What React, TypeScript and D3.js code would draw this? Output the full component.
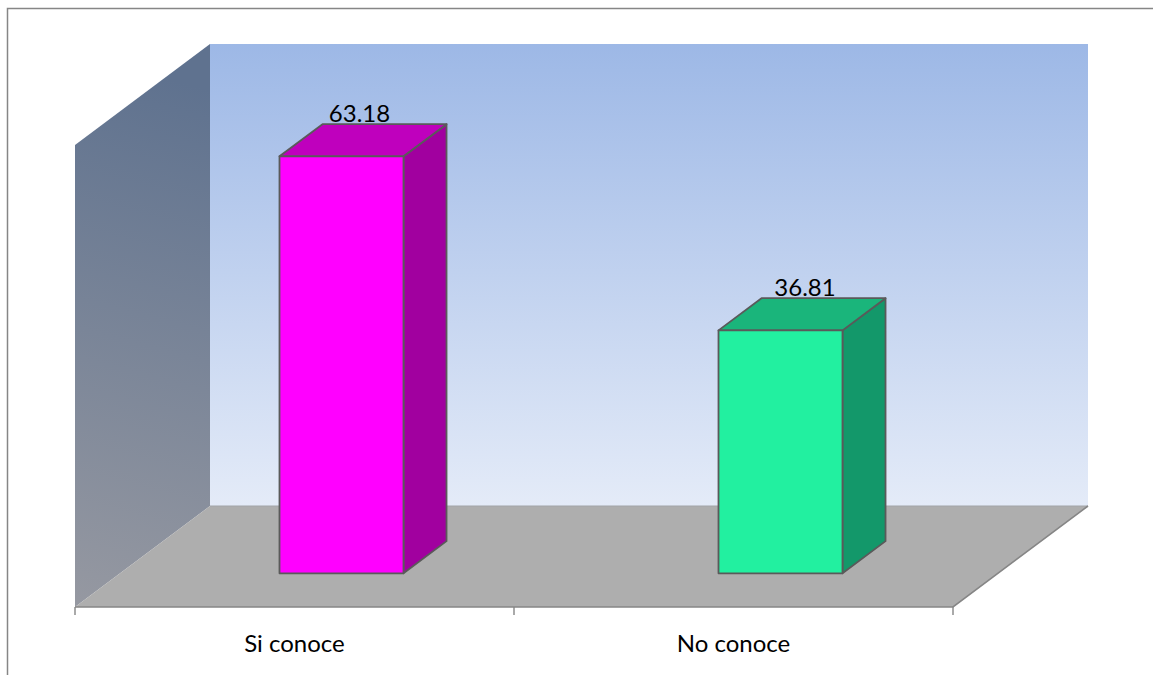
import React from "react";
import * as d3 from "d3";

const categories = ["Si conoce", "No conoce"];
const values = [63.18, 36.81];
const frontColors = ["#ff00ff", "#22f0a0"];
const topColors = ["#bf00bd", "#1ab57b"];
const sideColors = ["#a1009f", "#13986a"];

const W = 1153;
const H = 675;

// Oblique projection: front plane of the plot box plus a depth offset.
const xBand = d3.scaleBand<string>().domain(categories).range([75, 953]);
const yValue = d3.scaleLinear().domain([0, 70]).range([607, 145]);
const depthX = d3.scaleLinear().domain([0, 1]).range([0, 135]);
const depthY = d3.scaleLinear().domain([0, 1]).range([0, -101]);

const px = (x: number, z: number) => x + depthX(z);
const py = (v: number, z: number) => yValue(v) + depthY(z);
const poly = (pts: [number, number][]) => d3.line()(pts) + "Z";

const xMin = 75;
const xMax = 953;
const yMax = 70;
const barWidth = 124;
const barShift = 2;
const zFront = 1 / 3;
const zBack = 0.652;
// Horizontal distance from a bar's front centre to its value label.
const labelOffset = [18, 24.5];

const FONT = "Lato, 'Open Sans', sans-serif";

export default function App() {
  return (
    <svg
      width={W}
      height={H}
      viewBox={`0 0 ${W} ${H}`}
      style={{ position: "absolute", left: 0, top: 0, background: "#fff" }}
    >
      <defs>
        <linearGradient id="backWall" x1="0" y1="0" x2="0" y2="1">
          <stop offset="0" stopColor="#9db8e6" />
          <stop offset="1" stopColor="#e4ebf8" />
        </linearGradient>
        <linearGradient
          id="sideWall"
          gradientUnits="userSpaceOnUse"
          x1={210}
          y1={90}
          x2={75}
          y2={600}
        >
          <stop offset="0" stopColor="#5f728f" />
          <stop offset="1" stopColor="#9598a1" />
        </linearGradient>
      </defs>

      <path d="M7.5,675V8.5H1153" fill="none" stroke="#868686" strokeWidth={1.5} />

      <path
        d={poly([
          [px(xMin, 1), py(0, 1)],
          [px(xMin, 1), py(yMax, 1)],
          [px(xMax, 1), py(yMax, 1)],
          [px(xMax, 1), py(0, 1)],
        ])}
        fill="url(#backWall)"
      />
      <path
        d={poly([
          [px(xMin, 0), py(0, 0)],
          [px(xMin, 0), py(yMax, 0)],
          [px(xMin, 1), py(yMax, 1)],
          [px(xMin, 1), py(0, 1)],
        ])}
        fill="url(#sideWall)"
      />
      <path
        d={poly([
          [px(xMin, 0), py(0, 0)],
          [px(xMax, 0), py(0, 0)],
          [px(xMax, 1), py(0, 1)],
          [px(xMin, 1), py(0, 1)],
        ])}
        fill="#aeaeae"
      />
      {/* Floor edges that read as the axis line */}
      <path
        d={`M${px(xMin, 1)},${py(0, 1)}H${px(xMax, 1)}`}
        stroke="#a2a4a8"
        strokeWidth={1}
        fill="none"
      />
      <path
        d={`M${px(xMin, 0)},${py(0, 0)}H${px(xMax, 0)}L${px(xMax, 1)},${py(0, 1)}`}
        stroke="#868686"
        strokeWidth={1.6}
        fill="none"
      />
      {[xMin, xMin + xBand.bandwidth(), xMax].map((t) => (
        <path key={t} d={`M${t},${py(0, 0)}v8`} stroke="#868686" strokeWidth={1.4} />
      ))}

      {categories.map((c, i) => {
        const center = xBand(c)! + xBand.bandwidth() / 2;
        const x0 = center - barWidth / 2 + barShift;
        const x1 = center + barWidth / 2 + barShift;
        const v = values[i];
        const front: [number, number][] = [
          [px(x0, zFront), py(0, zFront)],
          [px(x0, zFront), py(v, zFront)],
          [px(x1, zFront), py(v, zFront)],
          [px(x1, zFront), py(0, zFront)],
        ];
        const top: [number, number][] = [
          [px(x0, zFront), py(v, zFront)],
          [px(x0, zBack), py(v, zBack)],
          [px(x1, zBack), py(v, zBack)],
          [px(x1, zFront), py(v, zFront)],
        ];
        const side: [number, number][] = [
          [px(x1, zFront), py(v, zFront)],
          [px(x1, zBack), py(v, zBack)],
          [px(x1, zBack), py(0, zBack)],
          [px(x1, zFront), py(0, zFront)],
        ];
        const stroke = { stroke: "#5a5a5a", strokeWidth: 1.8, strokeLinejoin: "round" as const };
        return (
          <g key={c}>
            <path d={poly(side)} fill={sideColors[i]} {...stroke} />
            <path d={poly(top)} fill={topColors[i]} {...stroke} />
            <path d={poly(front)} fill={frontColors[i]} {...stroke} />
            <text
              x={px(center + barShift, zFront) + labelOffset[i]}
              y={py(v, zBack) - 2}
              textAnchor="middle"
              fontFamily={FONT}
              fontSize={24}
              fill="#000"
            >
              {v.toFixed(2)}
            </text>
            <text x={center} y={652} textAnchor="middle" fontFamily={FONT} fontSize={24} fill="#000">
              {c}
            </text>
          </g>
        );
      })}
    </svg>
  );
}
